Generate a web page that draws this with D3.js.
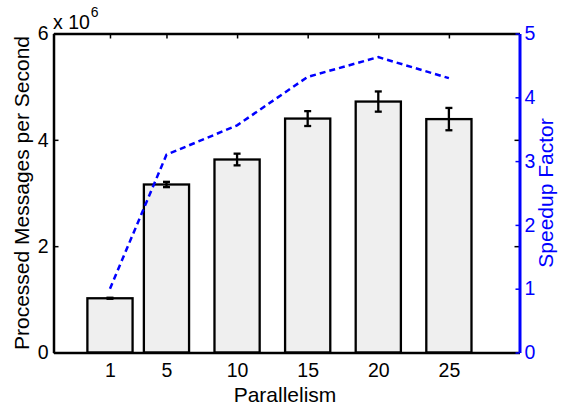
<!DOCTYPE html>
<html>
<head>
<meta charset="utf-8">
<script src="https://cdn.jsdelivr.net/npm/d3@7"></script>
<style>
  html, body { margin: 0; padding: 0; background: #fff; }
  svg { display: block; font-family: "Liberation Sans", Arial, Helvetica, sans-serif; }
</style>
</head>
<body>
<svg id="chart" width="570" height="408"></svg>
<script>
// ---- data ----
const parallelism = [1, 5, 10, 15, 20, 25];
const throughput  = [1.02e6, 3.16e6, 3.63e6, 4.40e6, 4.72e6, 4.39e6];
const throughputErr = [0.01e6, 0.05e6, 0.11e6, 0.14e6, 0.19e6, 0.21e6];
const speedup     = [1.00, 3.10, 3.56, 4.32, 4.63, 4.30];
const leftTicks   = [0, 2e6, 4e6, 6e6];
const rightTicks  = [0, 1, 2, 3, 4, 5];

// ---- layout ----
const L = 53.5, R = 519.5, T = 33.5, B = 352.5;
const svg = d3.select("#chart");

const x  = d3.scaleLinear().domain([-3, 30]).range([L, R]);
const yL = d3.scaleLinear().domain([0, 6e6]).range([B, T]);
const yR = d3.scaleLinear().domain([0, 5]).range([B, T]);
const barW = x(3.2) - x(0);

const blue = "#0000ff";
const tickFont = "19.5px";
const labelFont = "21px";

// bars
const rows = parallelism.map((p, i) => ({p, v: throughput[i], e: throughputErr[i], s: speedup[i]}));

svg.append("g").selectAll("rect").data(rows).join("rect")
  .attr("x", d => x(d.p) - barW / 2)
  .attr("y", d => yL(d.v))
  .attr("width", barW)
  .attr("height", d => yL(0) - yL(d.v))
  .attr("fill", "#efefef")
  .attr("stroke", "#000")
  .attr("stroke-width", 2.3);

// error bars
const eb = svg.append("g").attr("stroke", "#000").attr("stroke-width", 2.3);
const capW = 3.5;
rows.forEach(d => {
  eb.append("line").attr("x1", x(d.p)).attr("x2", x(d.p))
    .attr("y1", yL(d.v - d.e)).attr("y2", yL(d.v + d.e));
  eb.append("line").attr("x1", x(d.p) - capW).attr("x2", x(d.p) + capW)
    .attr("y1", yL(d.v - d.e)).attr("y2", yL(d.v - d.e));
  eb.append("line").attr("x1", x(d.p) - capW).attr("x2", x(d.p) + capW)
    .attr("y1", yL(d.v + d.e)).attr("y2", yL(d.v + d.e));
});

// axes
function styleAxis(g, color, w) {
  g.select(".domain").attr("stroke", color).attr("stroke-width", w);
  g.selectAll(".tick line").attr("stroke", color).attr("stroke-width", 1.5);
  g.selectAll(".tick text").attr("fill", color).style("font-size", tickFont)
    .style("font-family", "'Liberation Sans', Arial, sans-serif");
}

// top axis (ticks only)
const gTop = svg.append("g").attr("transform", `translate(0,${T})`)
  .call(d3.axisTop(x).tickValues(parallelism).tickFormat("").tickSizeInner(-5).tickSizeOuter(0));
styleAxis(gTop, "#000", 2.5);

// right mirror of left ticks (black)
const gRM = svg.append("g").attr("transform", `translate(${R},0)`)
  .call(d3.axisRight(yL).tickValues(leftTicks).tickFormat("").tickSizeInner(-5).tickSizeOuter(0));
gRM.select(".domain").remove();
gRM.selectAll(".tick line").attr("stroke", "#000").attr("stroke-width", 1.5);

// bottom axis
const gB = svg.append("g").attr("transform", `translate(0,${B})`)
  .call(d3.axisBottom(x).tickValues(parallelism).tickFormat(d3.format("d")).tickSizeInner(0).tickSizeOuter(0).tickPadding(10.5));
styleAxis(gB, "#000", 2.5);

// left axis
const gL = svg.append("g").attr("transform", `translate(${L},0)`)
  .call(d3.axisLeft(yL).tickValues(leftTicks).tickFormat(d => d / 1e6).tickSizeInner(-5).tickSizeOuter(0).tickPadding(5));
styleAxis(gL, "#000", 2.5);

// speedup line
const line = d3.line().x(d => x(d.p)).y(d => yR(d.s));
svg.append("path").datum(rows)
  .attr("d", line)
  .attr("fill", "none")
  .attr("stroke", blue)
  .attr("stroke-width", 2.5)
  .attr("stroke-dasharray", "6,4");

// right axis (blue)
const gR = svg.append("g").attr("transform", `translate(${R},0)`)
  .call(d3.axisRight(yR).tickValues(rightTicks).tickFormat(d3.format("d")).tickSizeInner(-4).tickSizeOuter(0).tickPadding(5));
styleAxis(gR, blue, 3);

// exponent label
const ex = svg.append("text").attr("x", 53).attr("y", 29)
  .style("font-size", "19.5px").attr("fill", "#000");
ex.append("tspan").text("x 10");
ex.append("tspan").attr("dx", 1).attr("dy", -12).style("font-size", "14px").text("6");

// axis titles
svg.append("text").attr("x", 285).attr("y", 401.5).attr("text-anchor", "middle")
  .style("font-size", labelFont).text("Parallelism");
svg.append("text").attr("transform", "translate(29,193) rotate(-90)").attr("text-anchor", "middle")
  .style("font-size", labelFont).text("Processed Messages per Second");
svg.append("text").attr("transform", "translate(553,193) rotate(-90)").attr("text-anchor", "middle")
  .attr("fill", blue).style("font-size", labelFont).text("Speedup Factor");
</script>
</body>
</html>
